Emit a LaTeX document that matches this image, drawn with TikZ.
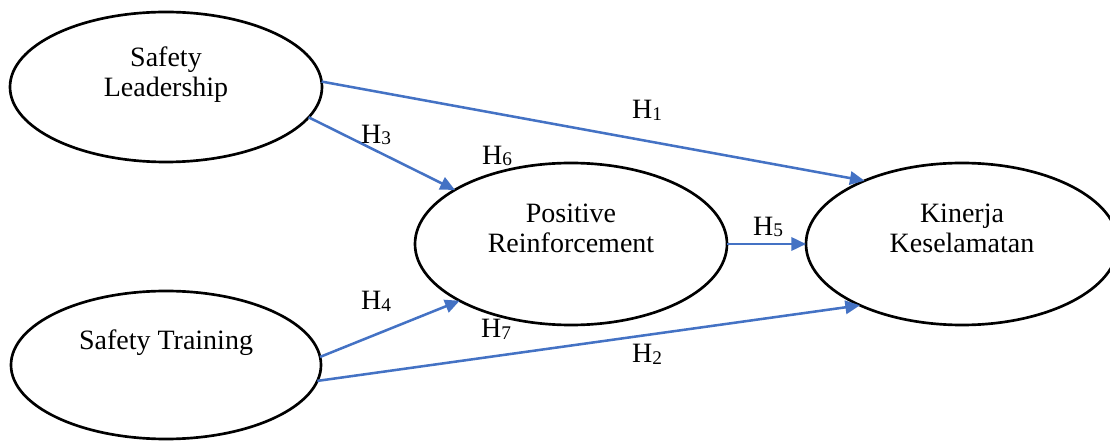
\documentclass[tikz,border=0pt]{standalone}
\usepackage{fontspec}
\setmainfont{Liberation Serif}
\usetikzlibrary{shapes.geometric,arrows.meta}
\definecolor{arrowblue}{HTML}{4472C4}
\newcommand{\hsub}[1]{\raisebox{-1.3pt}{\fontsize{14.5}{14.5}\selectfont #1}}
\begin{document}
\begin{tikzpicture}[x=0.75pt,y=-0.75pt,
  txt/.style={font=\fontsize{21}{22.5}\selectfont, align=center, inner sep=0pt},
  var/.style={ellipse, draw=black, line width=2pt, inner sep=0pt, outer sep=0pt},
  hyp/.style={draw=arrowblue, line width=1.9pt, -{Triangle[length=11pt,width=10pt]}},
  hlab/.style={txt}]
\useasboundingbox (0,0) rectangle (1110,441);
\clip (0,0) rectangle (1110,441);
\node[var, minimum width=234pt, minimum height=112.5pt,
  label={[txt, yshift=9pt]center:{Safety\\Leadership}}] (sl) at (166,87) {};
\node[var, minimum width=232.5pt, minimum height=111pt,
  label={[txt, yshift=17pt]center:{Safety Training}}] (st) at (166,365) {};
\node[var, minimum width=234pt, minimum height=121.5pt,
  label={[txt, yshift=12pt]center:{Positive\\Reinforcement}}] (pr) at (571,244) {};
\node[var, minimum width=234pt, minimum height=121.5pt,
  label={[txt, yshift=12pt]center:{Kinerja\\Keselamatan}}] (kk) at (962,244) {};
\draw[hyp] (sl.2) -- (kk.147);
\draw[hyp] (sl.-12) -- (pr.155);
\draw[hyp] (st.3) -- (pr.207);
\draw[hyp] (st.-6) -- (kk.211);
\draw[hyp] (pr.east) -- (kk.west);
\node[hlab] (h1) at (647,110) {H\hsub{1}};
\node[hlab] (h2) at (647,354) {H\hsub{2}};
\node[hlab] (h3) at (376,135) {H\hsub{3}};
\node[hlab] (h4) at (376,301) {H\hsub{4}};
\node[hlab] (h5) at (768,227) {H\hsub{5}};
\node[hlab] (h6) at (497,156) {H\hsub{6}};
\node[hlab] (h7) at (496,329) {H\hsub{7}};
\end{tikzpicture}
\end{document}
